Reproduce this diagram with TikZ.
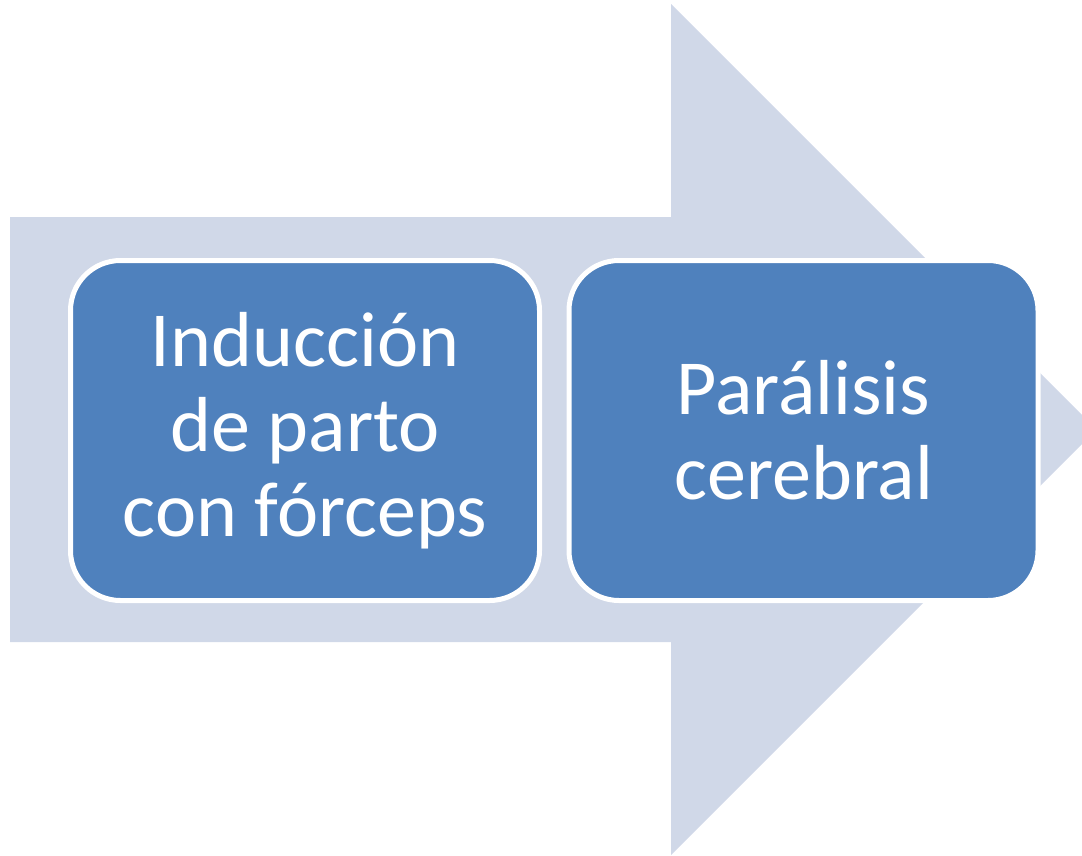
\documentclass[tikz,border=0pt]{standalone}
\usepackage{fontspec}
\setmainfont{Carlito}
\usetikzlibrary{calc}
\definecolor{flecha}{HTML}{D0D8E8}
\definecolor{caja}{HTML}{4F81BD}
\tikzset{
 paso/.style={draw=white, line width=5pt, fill=caja, rounded corners=50pt,
   minimum width=469pt, minimum height=340pt, inner sep=0pt,
   text=white, align=center, font=\fontsize{78}{85}\selectfont},
}

\begin{document}
\begin{tikzpicture}[x=1pt, y=-1pt]
\useasboundingbox (0,0) rectangle (1082,855);
\clip (0,0) rectangle (1082,855);
% big arrow behind the boxes
\fill[flecha] (10,217) -- (671,217) -- (671,4) -- (1096.5,429.5) -- (671,855)
  -- (671,642) -- (10,642) -- cycle;
\node[paso] (induccion) at (305,430.5) {Inducción\\de parto\\con fórceps};
\node[paso] (paralisis) at (803.5,430.5) {Parálisis\\cerebral};
\end{tikzpicture}
\end{document}
